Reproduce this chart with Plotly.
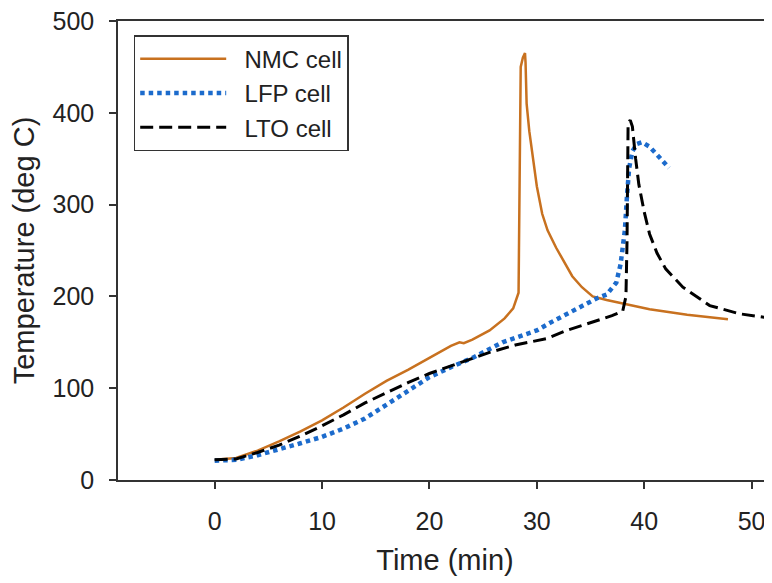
import plotly.graph_objects as go

# NMC cell (orange solid)
nmc_t = [0, 2, 4, 6, 8, 10, 12, 14, 16, 18, 20, 22, 22.8, 23.2, 24, 25.6, 27, 27.8, 28.3,
         28.35, 28.4, 28.45, 28.5, 28.7, 28.9, 28.95, 29.05, 29.3, 29.6, 30, 30.5, 31, 31.8,
         32.5, 33.3, 34.2, 35.2, 36.5, 38, 40.5, 44, 47.8]
nmc_T = [22, 24, 32, 42, 53, 65, 79, 94, 108, 120, 133, 146, 150, 149, 153, 163, 176, 187, 204,
         260, 313, 320, 450, 460, 465, 455, 410, 380, 355, 320, 290, 272, 253,
         238, 222, 210, 200, 196, 192, 186, 180, 175]

# LFP cell (blue dotted)
lfp_t = [0, 2, 4, 6, 8, 10, 12, 14, 16, 17, 18, 20, 22, 24, 26.8, 28, 30, 31.2, 33, 34.5, 35.6,
         36.5, 37.4, 37.8, 38.2, 38.4, 38.6, 38.9, 39.3, 39.8, 40.5, 41.3, 42.3]
lfp_T = [21, 22, 27, 33, 40, 47, 56, 67, 82, 90, 98, 112, 123, 133, 150, 155, 163, 171, 182, 190, 198,
         202, 215, 235, 272, 310, 340, 358, 366, 368, 363, 353, 340]

# LTO cell (black dashed)
lto_t = [0, 2, 4, 6, 8, 10, 12, 14, 16, 18, 20, 22, 24, 25.6, 28, 30.9, 32.8, 35.8, 37, 38.0,
         38.3, 38.4, 38.5, 38.7, 38.9, 39.2, 39.5, 40, 40.5, 41.2, 42, 43.6, 46.1, 48.9, 52]
lto_T = [22, 23, 30, 38, 48, 59, 71, 84, 95, 106, 116, 124, 132, 139, 147, 154, 163, 174, 179, 184,
         200, 260, 389, 392, 385, 350, 322, 292, 268, 247, 230, 210, 190, 181, 176]

x_ticks = [0, 10, 20, 30, 40, 50]
y_ticks = [0, 100, 200, 300, 400, 500]

fig = go.Figure()
fig.add_trace(go.Scatter(x=nmc_t, y=nmc_T, mode="lines", name="  NMC cell",
                         line=dict(color="#C8711F", width=2.5)))
fig.add_trace(go.Scatter(x=lfp_t, y=lfp_T, mode="lines", name="  LFP cell",
                         line=dict(color="#1C6BCC", width=4.5, dash="4.5px,4px")))
fig.add_trace(go.Scatter(x=lto_t, y=lto_T, mode="lines", name="  LTO cell",
                         line=dict(color="black", width=3, dash="13px,6px")))

fam = "Liberation Sans, Arial"
axis_font = dict(family=fam, size=25, color="#222")
title_font = dict(family=fam, size=29, color="#222")
# page body has an 8px margin, so the figure is sized to end at the window edge
fig.update_layout(
    width=764, height=575,
    margin=dict(l=110, r=0, t=13, b=103),
    paper_bgcolor="white", plot_bgcolor="white",
    showlegend=True,
    legend=dict(x=0.024, y=0.969, xanchor="left", yanchor="top",
                bordercolor="#333", borderwidth=1.5, bgcolor="white",
                font=dict(family=fam, size=24, color="#222"),
                itemwidth=86, tracegroupgap=0),
    xaxis=dict(range=[-9.0, 51.9], tickvals=x_ticks, ticks="outside", ticklen=7,
               tickwidth=1.5, tickcolor="#333", showline=True, linecolor="#333", linewidth=1.5,
               mirror=True, showgrid=False, zeroline=False, tickfont=axis_font,
               ticklabelstandoff=11, ticklabeloverflow="allow", automargin=False,
               title=dict(text="Time (min)", font=title_font, standoff=16)),
    yaxis=dict(range=[0, 500], tickvals=y_ticks, ticks="outside", ticklen=7,
               tickwidth=1.5, tickcolor="#333", showline=True, linecolor="#333", linewidth=1.5,
               mirror=True, showgrid=False, zeroline=False, tickfont=axis_font,
               ticklabelstandoff=10, ticklabeloverflow="allow", automargin=False,
               title=dict(text="Temperature (deg C)", font=title_font, standoff=10)),
)

fig.write_html("out.html")
